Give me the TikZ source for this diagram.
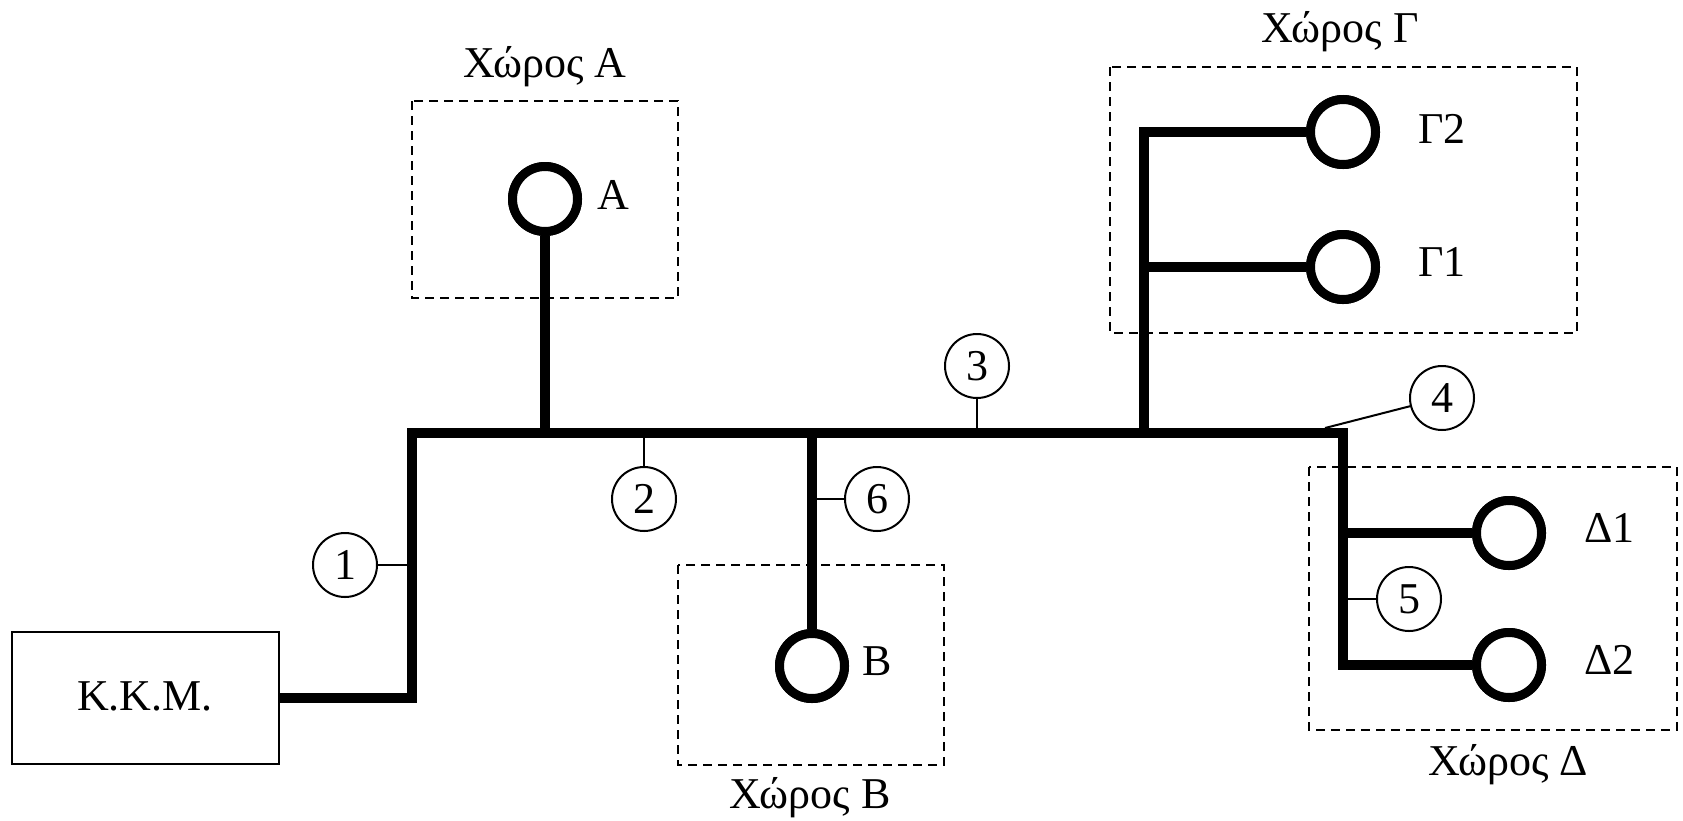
\documentclass[tikz,border=0pt]{standalone}
\usepackage{fontspec}
\setmainfont{Liberation Serif}
\begin{document}
\begin{tikzpicture}[x=1pt,y=-1pt,
  every node/.style={font=\fontsize{44}{48}\selectfont},
  zone/.style={draw,dashed,dash pattern=on 9pt off 6pt,line width=2pt},
  heavy/.style={line width=9.5pt},
  leader/.style={line width=2pt},
  outlet/.style={circle,draw,line width=9pt,fill=white,minimum size=65pt,inner sep=0pt},
  numc/.style={circle,draw,line width=2pt,fill=white,minimum size=64pt,inner sep=0pt},
  lbl/.style={anchor=base west,inner sep=0pt},
  ttl/.style={anchor=base,inner sep=0pt}]
\useasboundingbox (0,0) rectangle (1683,820);
% zones
\draw[zone] (412,101) rectangle (678,298);
\draw[zone] (678,565) rectangle (944,765);
\draw[zone] (1110,67) rectangle (1577,333);
\draw[zone] (1309,467) rectangle (1677,730);
\node[ttl] (tA) at (545,77) {Χώρος Α};
\node[ttl] (tB) at (810,808) {Χώρος Β};
\node[ttl] (tG) at (1340,42) {Χώρος Γ};
\node[ttl] (tD) at (1508,775) {Χώρος Δ};
% control unit
\node[draw,line width=2pt,minimum width=267pt,minimum height=132pt,inner sep=0pt] (kkm) at (145.5,698) {};
\node[ttl] (kkmt) at (145,710) {K.K.M.};
% coordinates
\coordinate (c1) at (412,698);
\coordinate (c2) at (412,433);
\coordinate (jA) at (545,433);
\coordinate (jB) at (812,433);
\coordinate (jG) at (1144,433);
\coordinate (c3) at (1343,433);
\coordinate (c4) at (1343,665);
\coordinate (gT) at (1144,132);
\coordinate (g1) at (1144,267);
\coordinate (d1) at (1343,533);
% outlets
\node[outlet] (A) at (545,199) {};
\node[outlet] (B) at (812,666) {};
\node[outlet] (G2) at (1343,132) {};
\node[outlet] (G1) at (1343,267) {};
\node[outlet] (D1) at (1509,533) {};
\node[outlet] (D2) at (1509,665) {};
% heavy lines
\draw[heavy,line join=miter] (kkm.east) -- (c1) -- (c2) -- (c3) -- (c4) -- (D2.west);
\draw[heavy] (A.south) -- (jA);
\draw[heavy] (B.north) -- (jB);
\draw[heavy,line join=miter] (jG) -- (gT) -- (G2.west);
\draw[heavy] (g1) -- (G1.west);
\draw[heavy] (d1) -- (D1.west);
% redraw outlets on top
\node[outlet] at (A) {};
\node[outlet] at (B) {};
\node[outlet] at (G2) {};
\node[outlet] at (G1) {};
\node[outlet] at (D1) {};
\node[outlet] at (D2) {};
% outlet labels
\node[lbl] (lA) at (597,209) {Α};
\node[lbl] (lB) at (862,675) {Β};
\node[lbl] (lG2) at (1418,143) {Γ2};
\node[lbl] (lG1) at (1418,276) {Γ1};
\node[lbl] (lD1) at (1584,542) {Δ1};
\node[lbl] (lD2) at (1584,674) {Δ2};
% numbered markers
\node[numc] (n1) at (345,565) {1};
\node[numc] (n2) at (644,499) {2};
\node[numc] (n3) at (977,366) {3};
\node[numc] (n4) at (1442,398) {4};
\node[numc] (n5) at (1409,599) {5};
\node[numc] (n6) at (877,499) {6};
\coordinate (l1) at (412,565);
\coordinate (l2) at (644,433);
\coordinate (l3) at (977,433);
\coordinate (l4) at (1325,428);
\coordinate (l5) at (1343,599);
\coordinate (l6) at (812,499);
\draw[leader] (n1.east) -- (l1);
\draw[leader] (n2.north) -- (l2);
\draw[leader] (n3.south) -- (l3);
\draw[leader] (l4) -- (n4);
\draw[leader] (n5.west) -- (l5);
\draw[leader] (n6.west) -- (l6);
\end{tikzpicture}
\end{document}
